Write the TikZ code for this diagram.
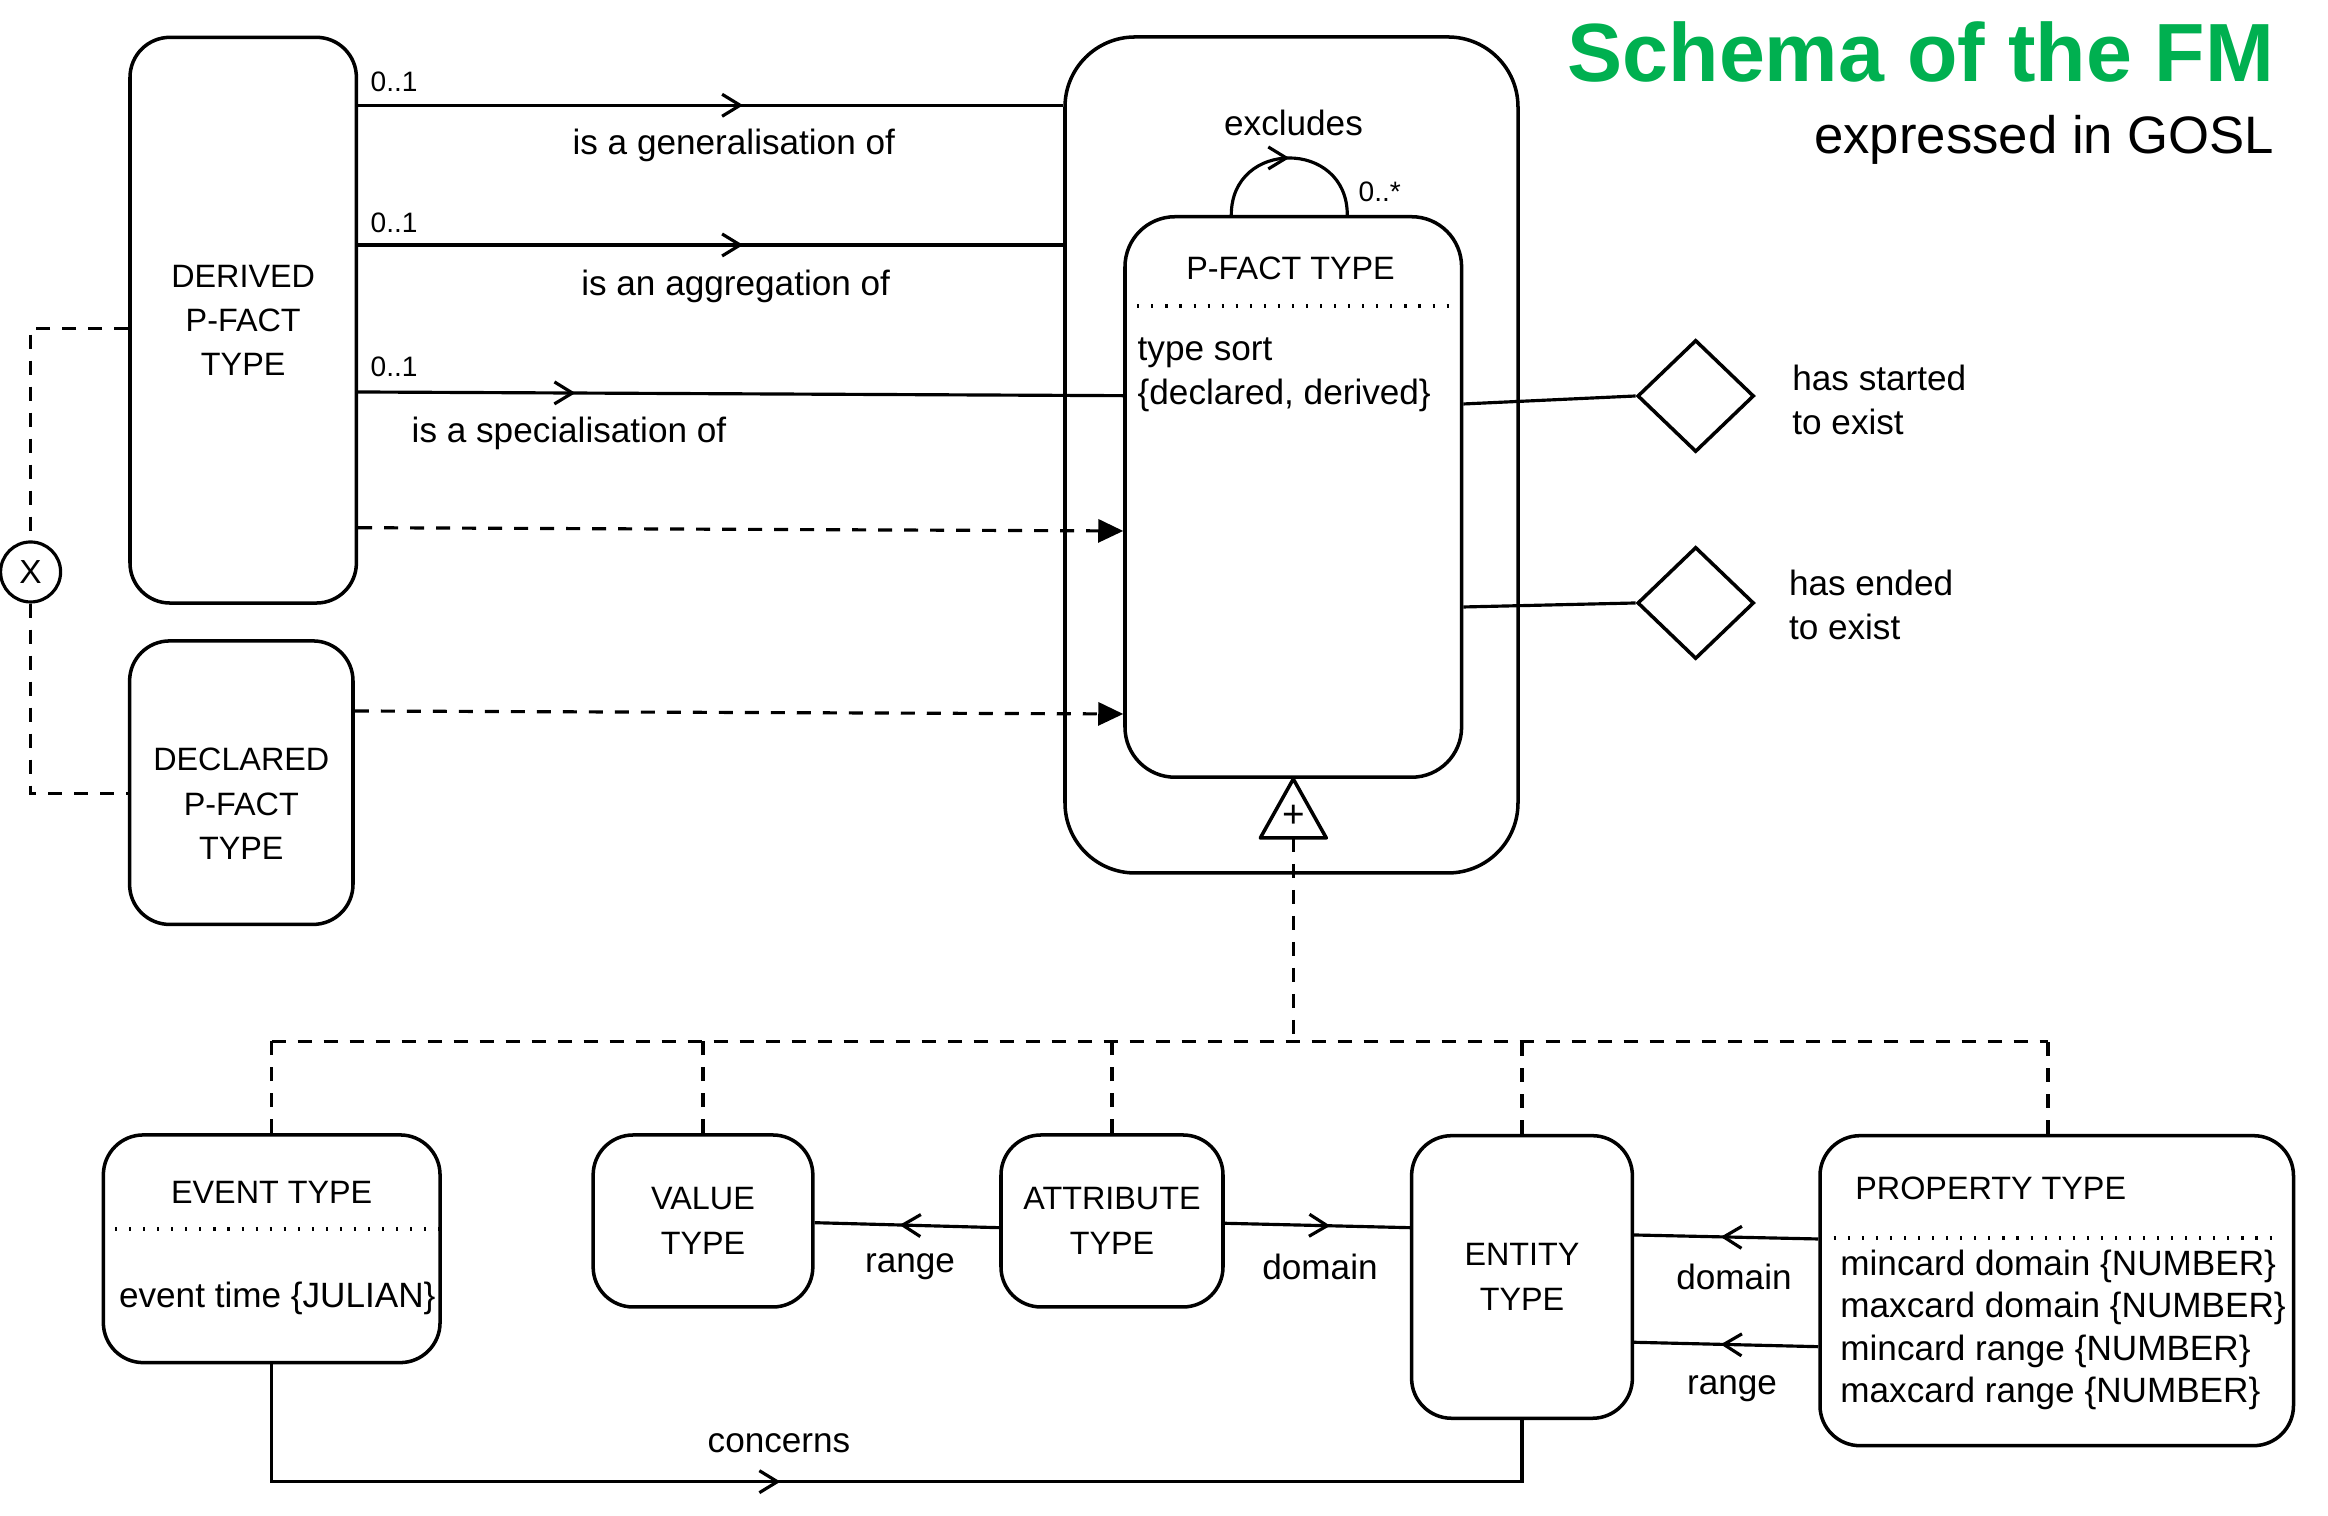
\documentclass[tikz,border=0pt]{standalone}
\usepackage{fontspec}
\setmainfont{Liberation Sans}
\usepackage{tikz}
\usetikzlibrary{calc}
\usetikzlibrary{arrows.meta,shapes.geometric}
\usetikzlibrary{decorations.markings}
\definecolor{fmgreen}{RGB}{0,176,80}
\tikzstyle{typebox}=[draw, line width=1pt, rounded corners=4mm, align=center,
                inner sep=0pt, font=\fontsize{9.2}{12.6}\selectfont]
\tikzstyle{rel}=[line width=0.9pt]
\tikzstyle{isa}=[line width=0.9pt, dash pattern=on 1.4mm off 1.2mm]
\tikzstyle{dotsep}=[line width=1.2pt, dash pattern=on 0.6pt off 3.4pt]
\tikzstyle{lbl}=[font=\fontsize{10}{12.4}\selectfont, inner sep=0pt]
\tikzstyle{capslbl}=[font=\fontsize{9.2}{12.6}\selectfont, inner sep=0pt]
\tikzstyle{card}=[font=\fontsize{8}{9}\selectfont, inner sep=0pt, anchor=west]
\tikzstyle{gate}=[draw, diamond, aspect=1, line width=1pt, inner sep=0pt,
                minimum width=1.166cm, minimum height=1.12cm]
\tikzset{midarr/.style={postaction={decorate},
  decoration={markings,mark=at position #1 with {\arrow{>}}}}}

\begin{document}
\begin{tikzpicture}[>={Straight Barb[length=1.8mm,width=2.2mm]}]
\useasboundingbox (0,0) rectangle (23.28,15.16);
% title
\node[anchor=base east, text=fmgreen, inner sep=0pt,
      font=\fontsize{23.5}{28}\selectfont\bfseries] (title) at (22.75,14.343) {Schema of the FM};
\node[anchor=base east, inner sep=0pt, font=\fontsize{15}{18}\selectfont] (subtitle) at (22.75,13.627) {expressed in GOSL};

% p-fact types
\node[typebox, minimum width=2.264cm, minimum height=5.657cm] (derived) at (2.432,11.958) {DERIVED\\P-FACT\\TYPE};
\node[typebox, minimum width=2.234cm, minimum height=2.835cm] (declared) at (2.413,7.333) {};
\node[capslbl, align=center] (declaredtext) at (2.413,7.12) {DECLARED\\P-FACT\\TYPE};
\node[draw, line width=1pt, rounded corners=7mm, minimum width=4.53cm, minimum height=8.36cm] (outer) at (12.915,10.61) {};
\node[draw, line width=1pt, rounded corners=5mm, minimum width=3.366cm, minimum height=5.605cm] (pfact) at (12.933,10.19) {};
\node[capslbl] (pfacttitle) at (12.906,12.48) {P-FACT TYPE};
\draw[dotsep] (pfact.west |- 0,12.10) -- (pfact.east |- 0,12.10);
\node[lbl, anchor=west, align=left] (typesort) at (11.37,11.41) {type sort\\\{declared, derived\}};

% excludes
\draw[rel, midarr=0.5] ([xshift=-0.62cm]pfact.north) .. controls +(0,0.76) and +(0,0.76) .. ([xshift=0.54cm]pfact.north);
\node[lbl] (lexcl) at (12.935,13.93) {excludes};
\node[card] (cexcl) at (13.58,13.243) {0..*};

% derived relations
\draw[rel, midarr=0.546] (derived.east |- 0,14.107) -- (outer.west |- 0,14.107);
\node[card] (c1) at (3.70,14.343) {0..1};
\node[lbl] (lgen) at (7.338,13.71) {is a generalisation of};
\draw[rel, midarr=0.546] (derived.east |- 0,12.71) -- (outer.west |- 0,12.71);
\node[card] (c2) at (3.70,12.933) {0..1};
\node[lbl] (lagg) at (7.357,12.293) {is an aggregation of};
\draw[rel, midarr=0.284] (derived.east |- 0,11.24) -- (pfact.west |- 0,11.203);
\node[card] (c3) at (3.70,11.493) {0..1};
\node[lbl] (lspec) at (5.69,10.83) {is a specialisation of};
\draw[isa, -{Triangle[length=2.5mm,width=2.3mm]}] (derived.east |- 0,9.883) -- (pfact.west |- 0,9.85);
\draw[isa, -{Triangle[length=2.5mm,width=2.3mm]}] (declared.east |- 0,8.05) -- (pfact.west |- 0,8.02);

% exclusive or
\node[draw, circle, line width=0.9pt, minimum size=0.6cm, inner sep=0pt,
      font=\fontsize{9.5}{11}\selectfont] (xor) at (0.306,9.44) {X};
\draw[isa] ([yshift=-0.08cm]derived.west) -| (xor.north);
\draw[isa] (xor.south) |- ([yshift=-0.11cm]declared.west);

% existence
\node[gate] (started) at (16.957,11.20) {};
\node[gate] (ended) at (16.957,9.13) {};
\draw[rel] (pfact.east |- 0,11.12) -- (started.west);
\draw[rel] (pfact.east |- 0,9.09) -- (ended.west);
\node[lbl, anchor=west, align=left] (lstarted) at (17.917,11.16) {has started\\to exist};
\node[lbl, anchor=west, align=left] (lended) at (17.883,9.113) {has ended\\to exist};

% generalisation
\draw[line width=1pt, line join=round] (pfact.south) -- ++(-0.33,-0.59) -- ++(0.66,0) -- cycle;
\node[inner sep=0pt, font=\fontsize{11}{12}\selectfont] (plus) at ([yshift=-0.37cm]pfact.south) {+};
\coordinate (genbase) at ([yshift=-0.59cm]pfact.south);

% bottom types
\node[typebox, minimum width=3.367cm, minimum height=2.277cm] (event) at (2.717,2.672) {};
\node[capslbl] (eventtitle) at (2.717,3.233) {EVENT TYPE};
\draw[dotsep] (1.15,2.87) -- (4.42,2.87);
\node[lbl] (eventattr) at (2.773,2.18) {event time \{JULIAN\}};
\node[typebox, minimum width=2.197cm, minimum height=1.72cm] (value) at (7.03,2.95) {VALUE\\TYPE};
\node[typebox, minimum width=2.22cm, minimum height=1.72cm] (attr) at (11.12,2.95) {ATTRIBUTE\\TYPE};
\node[typebox, minimum width=2.208cm, minimum height=2.826cm] (entity) at (15.22,2.39) {ENTITY\\TYPE};
\node[typebox, minimum width=4.735cm, minimum height=3.10cm] (property) at (20.5675,2.253) {};
\node[capslbl, anchor=west] (proptitle) at (18.547,3.277) {PROPERTY TYPE};
\draw[dotsep] (18.337,2.777) -- (22.83,2.777);
\node[lbl, anchor=west, align=left, font=\fontsize{10}{12}\selectfont] (propattr) at (18.397,1.86)
  {mincard domain \{NUMBER\}\\maxcard domain \{NUMBER\}\\mincard range \{NUMBER\}\\maxcard range \{NUMBER\}};

% is-a lines
\coordinate (busL) at (event.north |- 0,4.745);
\coordinate (busR) at (20.48,4.745);
\draw[isa] (genbase) -- (genbase |- busL);
\draw[isa] (busL) -- (busR);
\draw[isa] (event.north) -- (busL);
\draw[isa] (value.north) -- (value.north |- busL);
\draw[isa] (attr.north) -- (attr.north |- busL);
\draw[isa] (entity.north) -- (entity.north |- busL);
\draw[isa] (property.north -| busR) -- (busR);

% bottom relations
\draw[rel, midarr=0.54] (attr.west |- 0,2.883) -- (value.east |- 0,2.933);
\node[lbl] (lrange) at (9.10,2.493) {range};
\draw[rel, midarr=0.57] (attr.east |- 0,2.927) -- (entity.west |- 0,2.883);
\node[lbl] (ldomain) at (13.20,2.493) {domain};
\draw[rel, midarr=0.53] (property.west |- 0,2.77) -- (entity.east |- 0,2.81);
\node[lbl] (lpdomain) at (17.34,2.393) {domain};
\draw[rel, midarr=0.53] (property.west |- 0,1.693) -- (entity.east |- 0,1.737);
\node[lbl] (lprange) at (17.32,1.277) {range};
\draw[rel, midarr=0.438] (event.south) -- (event.south |- 0,0.343) -- (entity.south |- 0,0.343) -- (entity.south);
\node[lbl] (lconcerns) at (7.79,0.727) {concerns};
\end{tikzpicture}
\end{document}
